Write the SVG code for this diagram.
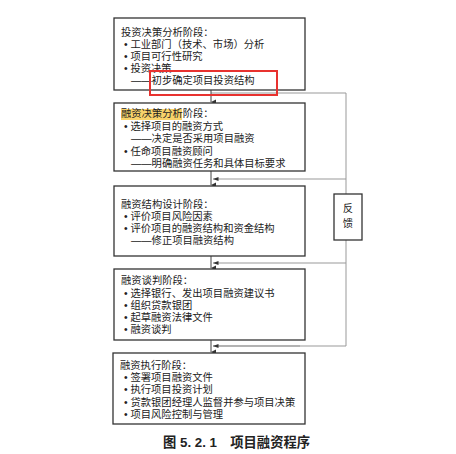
<svg xmlns="http://www.w3.org/2000/svg" width="456" height="454" viewBox="0 0 456 454">
<defs>
<style>
.box{fill:#fff;stroke:#333;stroke-width:1.3}
.t{font-family:"Liberation Sans","Noto Sans CJK SC",sans-serif;font-size:10.3px;fill:#222}
.conn{fill:none;stroke:#444;stroke-width:1}
.fb{fill:none;stroke:#999;stroke-width:1}
.cap{font-family:"Liberation Sans","Noto Sans CJK SC",sans-serif;font-size:13.3px;font-weight:bold;fill:#222}
</style>
<marker id="ad" markerWidth="6" markerHeight="6" refX="3" refY="5" orient="auto-start-reverse" markerUnits="userSpaceOnUse" viewBox="0 0 6 6">
<path d="M0.5,0 L3,5 L5.5,0 Z" fill="#333"/>
</marker>
<marker id="al" markerWidth="6" markerHeight="6" refX="0.5" refY="3" orient="0" markerUnits="userSpaceOnUse" viewBox="0 0 6 6">
<path d="M0.5,3 L6,1 L6,5 Z" fill="#333"/>
</marker>
</defs>
<rect width="456" height="454" fill="#fff"/>
<g id="connectors">
<path class="fb" d="M211,93 H346 V346 H213"/>
<path class="fb" d="M346,179 H213" marker-end="url(#al)"/>
<path class="fb" d="M346,263 H213" marker-end="url(#al)"/>
<path class="fb" d="M300,346 H213" marker-end="url(#al)"/>
<path class="conn" d="M211,90 V102" marker-end="url(#ad)"/>
<path class="conn" d="M211,171 V185" marker-end="url(#ad)"/>
<path class="conn" d="M211,256 V268" marker-end="url(#ad)"/>
<path class="conn" d="M211,340 V352" marker-end="url(#ad)"/>
</g>
<g id="stage1">
<rect class="box" x="114" y="18" width="191" height="72"/>
<text class="t" x="121" y="36">投资决策分析阶段：</text>
<text class="t" x="124" y="48">• 工业部门（技术、市场）分析</text>
<text class="t" x="124" y="60">• 项目可行性研究</text>
<text class="t" x="124" y="72">• 投资决策</text>
<text class="t" x="131" y="84">——初步确定项目投资结构</text>
</g>
<rect id="highlight-frame" x="150" y="71" width="127" height="24" fill="none" stroke="#e8322f" stroke-width="2"/>
<g id="stage2">
<rect class="box" x="114" y="103" width="191" height="68"/>
<rect x="121" y="109" width="61" height="11" fill="#f8d36a"/>
<text class="t" x="121" y="117">融资决策分析阶段：</text>
<text class="t" x="124" y="129.5">• 选择项目的融资方式</text>
<text class="t" x="131" y="142">——决定是否采用项目融资</text>
<text class="t" x="124" y="154.5">• 任命项目融资顾问</text>
<text class="t" x="131" y="167">——明确融资任务和具体目标要求</text>
</g>
<g id="stage3">
<rect class="box" x="114" y="186" width="191" height="70"/>
<text class="t" x="121" y="208">融资结构设计阶段：</text>
<text class="t" x="124" y="220">• 评价项目风险因素</text>
<text class="t" x="124" y="232">• 评价项目的融资结构和资金结构</text>
<text class="t" x="131" y="244">——修正项目融资结构</text>
</g>
<g id="stage4">
<rect class="box" x="114" y="269" width="191" height="71"/>
<text class="t" x="121" y="284">融资谈判阶段：</text>
<text class="t" x="124" y="297">• 选择银行、发出项目融资建议书</text>
<text class="t" x="124" y="309">• 组织贷款银团</text>
<text class="t" x="124" y="321">• 起草融资法律文件</text>
<text class="t" x="124" y="333">• 融资谈判</text>
</g>
<g id="stage5">
<rect class="box" x="113" y="353" width="192" height="71"/>
<text class="t" x="120" y="369">融资执行阶段：</text>
<text class="t" x="124" y="381">• 签署项目融资文件</text>
<text class="t" x="124" y="393">• 执行项目投资计划</text>
<text class="t" x="124" y="406">• 贷款银团经理人监督并参与项目决策</text>
<text class="t" x="124" y="418">• 项目风险控制与管理</text>
</g>
<g id="feedback">
<rect class="box" x="334" y="194" width="28" height="46" stroke-width="1.2"/>
<text class="t" x="348" y="212" text-anchor="middle">反</text>
<text class="t" x="348" y="227" text-anchor="middle">馈</text>
</g>
<text class="cap" x="163" y="447">图 5. 2. 1　项目融资程序</text>
</svg>
